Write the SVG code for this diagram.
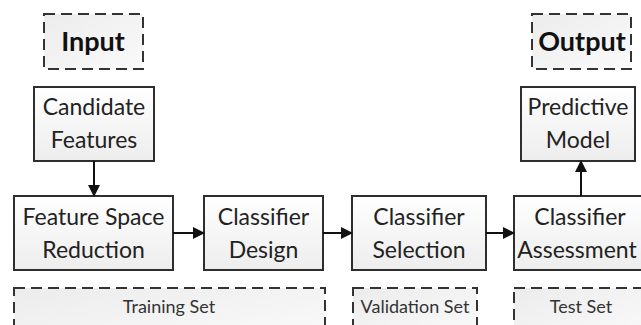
<svg xmlns="http://www.w3.org/2000/svg" width="641" height="325" viewBox="0 0 641 325">
<style>
.box{fill:url(#g);stroke:#2e2e2e;stroke-width:2}
.dash{fill:url(#g2);stroke:#333;stroke-width:2;stroke-dasharray:11,6}
.t{font-family:Lato,"Open Sans",sans-serif;font-size:23px;fill:#222;text-anchor:middle}
.b{font-family:Lato,"Open Sans",sans-serif;font-size:27px;font-weight:bold;fill:#111;text-anchor:middle}
.s{font-family:Lato,"Open Sans",sans-serif;font-size:18px;fill:#333;text-anchor:middle}
.c{stroke:#111;stroke-width:2;fill:none;marker-end:url(#ah)}
</style>
<defs>
<linearGradient id="g" x1="0" y1="0" x2="0" y2="1"><stop offset="0" stop-color="#ffffff"/><stop offset="1" stop-color="#ededed"/></linearGradient>
<linearGradient id="g2" x1="0" y1="0" x2="1" y2="1"><stop offset="0" stop-color="#ececec"/><stop offset="1" stop-color="#fafafa"/></linearGradient>
<marker id="ah" markerWidth="12" markerHeight="12" refX="11" refY="6" orient="auto" markerUnits="userSpaceOnUse"><path d="M0,0 L12,6 L0,12 z" fill="#111"/></marker>
</defs>
<rect width="641" height="325" fill="#fff"/>
<g id="input"><rect class="dash" x="44" y="14" width="99" height="55"/><text class="b" x="93" y="51">Input</text></g>
<g id="output"><rect class="dash" x="532" y="14" width="99" height="55"/><text class="b" x="582" y="51">Output</text></g>
<g id="candidate"><rect class="box" x="34" y="87" width="120" height="74"/><text class="t" x="94" y="115">Candidate</text><text class="t" x="94" y="148">Features</text></g>
<g id="predictive"><rect class="box" x="521" y="87" width="114" height="74"/><text class="t" x="578" y="115">Predictive</text><text class="t" x="578" y="148">Model</text></g>
<g id="fsr"><rect class="box" x="14" y="196" width="159" height="74"/><text class="t" x="93.5" y="225">Feature Space</text><text class="t" x="93.5" y="258">Reduction</text></g>
<g id="design"><rect class="box" x="204" y="196" width="119" height="74"/><text class="t" x="263.5" y="225">Classifier</text><text class="t" x="263.5" y="258">Design</text></g>
<g id="selection"><rect class="box" x="352" y="196" width="134" height="74"/><text class="t" x="419" y="225">Classifier</text><text class="t" x="419" y="258">Selection</text></g>
<g id="assessment"><rect class="box" x="514" y="196" width="136" height="74"/><text class="t" x="580" y="225">Classifier</text><text class="t" x="577" y="258">Assessment</text></g>
<g id="training"><rect class="dash" x="14" y="288" width="311" height="50"/><text class="s" x="169" y="313">Training Set</text></g>
<g id="validation"><rect class="dash" x="353" y="288" width="124" height="50"/><text class="s" x="415" y="313">Validation Set</text></g>
<g id="test"><rect class="dash" x="514" y="288" width="136" height="50"/><text class="s" x="581" y="313">Test Set</text></g>
<g id="connectors">
<line class="c" x1="94" y1="161" x2="94" y2="196"/>
<line class="c" x1="173" y1="233" x2="204" y2="233"/>
<line class="c" x1="323" y1="233" x2="352" y2="233"/>
<line class="c" x1="486" y1="233" x2="514" y2="233"/>
<line class="c" x1="581" y1="196" x2="581" y2="161"/>
</g>
</svg>
